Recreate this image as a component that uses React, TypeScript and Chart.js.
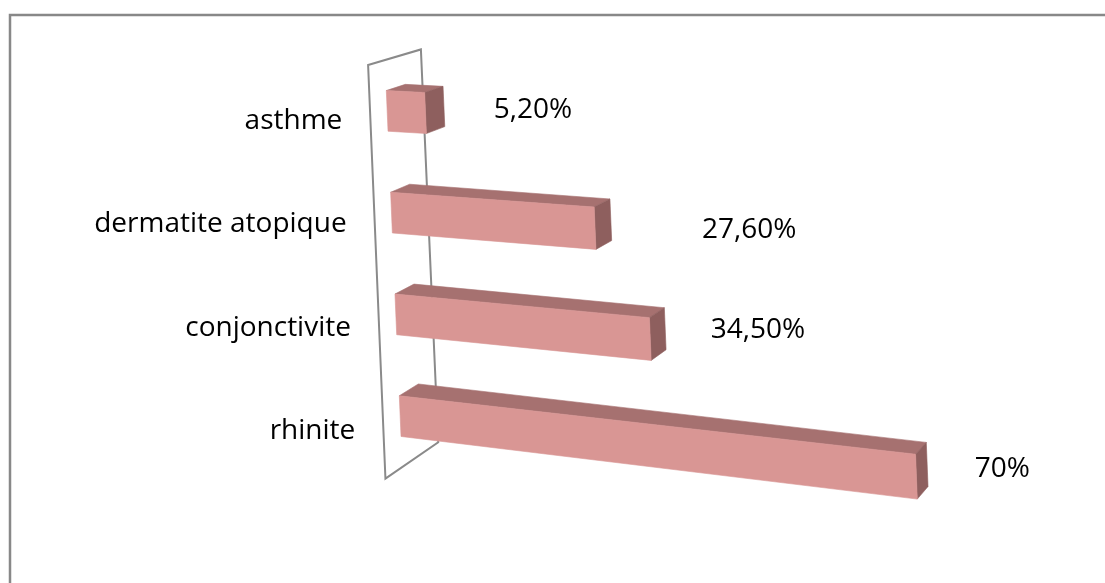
import React, { useEffect, useRef } from "react";
import { Chart, registerables } from "chart.js";

Chart.register(...registerables);

// ---- data ----
const categories = ["asthme", "dermatite atopique", "conjonctivite", "rhinite"];
const values = [5.2, 27.6, 34.5, 70];
const valueLabels = ["5,20%", "27,60%", "34,50%", "70%"];
const axisMin = 0;
const axisMax = 80;

// ---- layout / style (not data) ----
const labelShiftX = [4, 44, -2, -2];
const labelShiftY = [0, 6, -4, -2];
const FRONT = "#D99694";
const TOP = "#A67170";
const SIDE = "#8E5F5E";
const WALL = "#8A8A8A";
const FONT = "28px 'Open Sans', 'DejaVu Sans', sans-serif";

// pseudo-3D projection: flat (u,v) from the chart scales -> screen
const LEAN = 0.0426;
const S0 = 0.046;
const S1 = 0.0002;
const DX0 = 19;
const DXK = 0.016;
const DY0 = -5.6;
const DYK = 0.0185;
const WALL_FRONT = 0.889;
const WALL_BACK = 1.889;

type P = { x: number; y: number };

function makeProj(u0: number, top: number) {
  const F = (u: number, v: number): P => ({
    x: u + LEAN * (v - top),
    y: v + (S0 + S1 * (v - top)) * (u - u0),
  });
  const D = (u: number, v: number): P => ({
    x: DX0 - DXK * (u - u0),
    y: DY0 - DYK * (v - top),
  });
  const add = (a: P, b: P, k: number): P => ({ x: a.x + b.x * k, y: a.y + b.y * k });
  return { F, D, add };
}

function poly(ctx: CanvasRenderingContext2D, pts: P[], color: string) {
  ctx.beginPath();
  ctx.moveTo(pts[0].x, pts[0].y);
  for (let i = 1; i < pts.length; i++) ctx.lineTo(pts[i].x, pts[i].y);
  ctx.closePath();
  ctx.fillStyle = color;
  ctx.fill();
  ctx.strokeStyle = color;
  ctx.lineWidth = 0.6;
  ctx.stroke();
}

const bar3d = {
  id: "bar3d",
  beforeDraw(chart: any) {
    const ctx = chart.ctx as CanvasRenderingContext2D;
    ctx.save();
    ctx.fillStyle = "#ffffff";
    ctx.fillRect(0, 0, chart.width, chart.height);
    // outer frame (top and left visible)
    ctx.strokeStyle = "#888888";
    ctx.lineWidth = 2.5;
    ctx.beginPath();
    ctx.moveTo(chart.width + 2, 15);
    ctx.lineTo(10, 15);
    ctx.lineTo(10, chart.height + 2);
    ctx.stroke();
    ctx.restore();
  },
  afterDatasetsDraw(chart: any) {
    const ctx = chart.ctx as CanvasRenderingContext2D;
    const xs = chart.scales.x;
    const ys = chart.scales.y;
    const u0 = xs.getPixelForValue(0);
    const top = ys.top;
    const bottom = ys.bottom;
    const { F, D, add } = makeProj(u0, top);

    ctx.save();
    // wall at value 0
    const ft = add(F(u0, top), D(u0, top), -WALL_FRONT);
    const bt = add(F(u0, top), D(u0, top), WALL_BACK);
    const bb = add(F(u0, bottom), D(u0, bottom), WALL_BACK);
    const fb = add(F(u0, bottom), D(u0, bottom), -WALL_FRONT);
    ctx.beginPath();
    ctx.moveTo(ft.x, ft.y);
    ctx.lineTo(bt.x, bt.y);
    ctx.lineTo(bb.x, bb.y);
    ctx.lineTo(fb.x, fb.y);
    ctx.closePath();
    ctx.strokeStyle = WALL;
    ctx.lineWidth = 2;
    ctx.stroke();

    // category labels
    ctx.font = FONT;
    ctx.fillStyle = "#000000";
    ctx.textAlign = "right";
    ctx.textBaseline = "middle";
    categories.forEach((c, i) => {
      const vc = ys.getPixelForValue(i);
      const p = add(F(u0, vc), D(u0, vc), -WALL_FRONT);
      ctx.fillText(c, p.x - 28, p.y + 4);
    });

    // bars
    const meta = chart.getDatasetMeta(0);
    meta.data.forEach((el: any, i: number) => {
      const { x: u1, y: vc, height: h, base } = el.getProps(["x", "y", "height", "base"], true);
      const ub = base;
      const vt = vc - h / 2;
      const vb = vc + h / 2;
      const a = F(ub, vt);
      const b = F(u1, vt);
      const c = F(u1, vb);
      const d = F(ub, vb);
      const a2 = add(a, D(ub, vt), 1);
      const b2 = add(b, D(u1, vt), 1);
      const c2 = add(c, D(u1, vb), 1);
      poly(ctx, [a, b, b2, a2], TOP);
      poly(ctx, [b, c, c2, b2], SIDE);
      poly(ctx, [a, b, c, d], FRONT);

      // value label
      const mid = add(F(u1, vc), D(u1, vc), 0.5);
      ctx.textAlign = "left";
      ctx.textBaseline = "middle";
      ctx.fillStyle = "#000000";
      ctx.fillText(valueLabels[i], mid.x + 55 + labelShiftX[i], mid.y + labelShiftY[i]);
    });
    ctx.restore();
  },
};

export default function App() {
  const ref = useRef<HTMLCanvasElement | null>(null);
  useEffect(() => {
    if (!ref.current) return;
    const chart = new Chart(ref.current, {
      type: "bar",
      data: {
        labels: categories,
        datasets: [
          {
            data: values,
            backgroundColor: "rgba(0,0,0,0)",
            borderWidth: 0,
            categoryPercentage: 0.8,
            barPercentage: 0.5,
          },
        ],
      },
      options: {
        indexAxis: "y",
        animation: false,
        responsive: false,
        devicePixelRatio: 1,
        layout: { padding: { left: 385, right: 130, top: 60, bottom: 116 } },
        plugins: {
          legend: { display: false },
          tooltip: { enabled: false },
        },
        scales: {
          x: { type: "linear", min: axisMin, max: axisMax, display: false },
          y: { type: "category", display: false },
        },
      },
      plugins: [bar3d],
    });
    return () => chart.destroy();
  }, []);
  return (
    <canvas
      ref={ref}
      width={1105}
      height={583}
      style={{ position: "fixed", left: 0, top: 0, width: 1105, height: 583 }}
    />
  );
}
